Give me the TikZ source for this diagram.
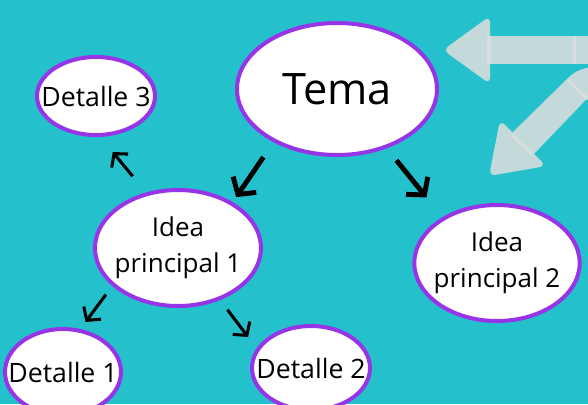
\documentclass[tikz,border=0pt]{standalone}
\usepackage{fontspec}
\setmainfont{Open Sans}
\usetikzlibrary{shapes.geometric,arrows.meta}

\definecolor{fondo}{RGB}{36,193,204}
\definecolor{morado}{RGB}{150,52,232}
\definecolor{gris}{RGB}{196,217,218}
\definecolor{raya}{RGB}{218,221,221}

\begin{document}
\begin{tikzpicture}[x=0.75pt, y=-0.75pt,
  burbuja/.style={ellipse, draw=morado, fill=white, line width=3pt, inner sep=0pt},
  texto/.style={font=\fontsize{20}{24}\selectfont, align=center},
  textoidea/.style={font=\fontsize{19.5}{27}\selectfont, align=center},
  flecha/.style={line width=3.7pt, -{Straight Barb[length=9pt,width=21pt]}},
  flechita/.style={line width=2.3pt, -{Straight Barb[length=7pt,width=16pt]}}]

% background
\fill[fondo] (0,0) rectangle (588,404);
\useasboundingbox (0,0) rectangle (588,404);

% big light arrows
\fill[gris, rounded corners=5pt] (443,50) -- (490,16) -- (490,84) -- cycle;
\fill[gris] (488,36) rectangle (600,64);
\fill[gris, rounded corners=5pt] (489,176) -- (500,120) -- (546,166) -- cycle;
\fill[gris] (511,134) -- (567,79) .. controls (576,70) and (584,67) .. (600,67) -- (600,85) -- (533,155) -- cycle;
\fill[raya] (487,36) rectangle (491,64);
\fill[raya] (573,36) rectangle (576,64);
\draw[raya, line width=2.2pt] (512,135) -- (532,154);
\draw[raya, line width=2.2pt] (568,80) -- (588,99);

% nodes
\node[burbuja, minimum width=150pt, minimum height=99pt,
  label={[font=\fontsize{32.5}{38}\selectfont]center:Tema}] (tema) at (337,89) {};
\node[burbuja, minimum width=88.5pt, minimum height=58.5pt,
  label={[texto]center:Detalle 3}] (det3) at (96,96) {};
\node[burbuja, minimum width=124.5pt, minimum height=87pt,
  label={[textoidea]center:Idea\\principal 1}] (idea1) at (178,248) {};
\node[burbuja, minimum width=124pt, minimum height=87pt,
  label={[textoidea]center:Idea\\principal 2}] (idea2) at (497,263) {};
\node[burbuja, minimum width=87pt, minimum height=64.5pt,
  label={[texto]center:Detalle 1}] (det1) at (63,372) {};
\node[burbuja, minimum width=88.5pt, minimum height=63pt,
  label={[texto]center:Detalle 2}] (det2) at (311,368) {};

% arrows
\draw[flecha, shorten <=13.5pt, shorten >=4.5pt] (tema.220) -- (idea1.40);
\draw[flecha, shorten <=11.5pt, shorten >=19pt] (tema.310) -- (idea2.140);
\draw[flechita, shorten <=15.7pt, shorten >=14.7pt] (idea1.120) -- (det3.276);
\draw[flechita, shorten <=8pt, shorten >=6.5pt] (idea1.210) -- (det1.68);
\draw[flechita, shorten <=9pt, shorten >=10.5pt] (idea1.309) -- (det2.160);

\end{tikzpicture}
\end{document}
